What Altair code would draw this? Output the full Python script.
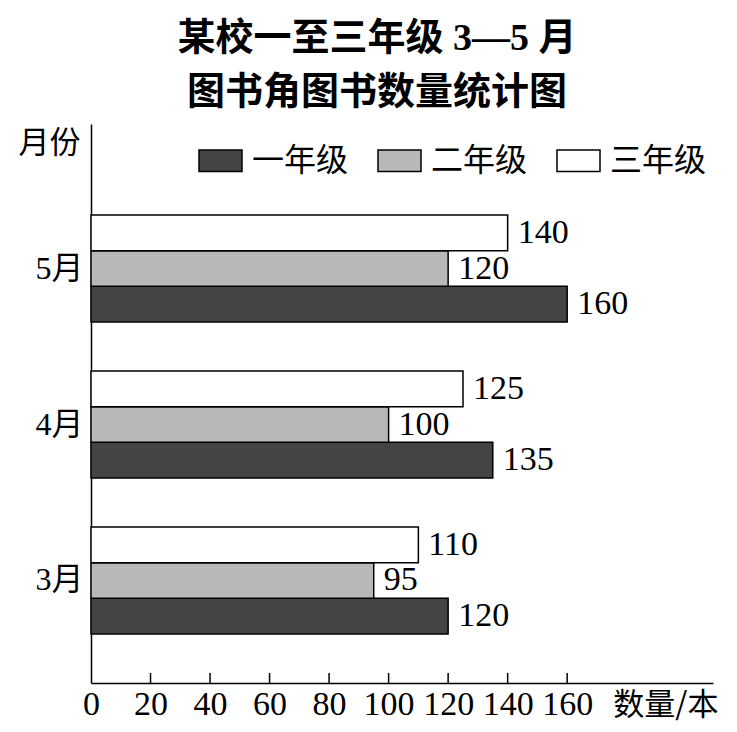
import pandas as pd
import altair as alt

# data
months = ["3月", "4月", "5月"]
grades = ["一年级", "二年级", "三年级"]
grade1 = [120, 135, 160]
grade2 = [95, 100, 120]
grade3 = [110, 125, 140]
x_ticks = [0, 20, 40, 60, 80, 100, 120, 140, 160]

rows = []
for i, m in enumerate(months):
    for g, vals in zip(grades, [grade1, grade2, grade3]):
        rows.append({"month": m, "grade": g, "count": vals[i]})
df = pd.DataFrame(rows)
ticks_df = pd.DataFrame({"v": x_ticks[1:]})

W, H = 622, 559
serif = "Liberation Serif"
cjk = "Noto Sans CJK SC"

x_scale = alt.Scale(domain=[0, 209], nice=False, zero=True)
y_scale = alt.Scale(domain=["5月", "4月", "3月"], paddingInner=0.314,
                    paddingOuter=0.449, align=0.65)

base = alt.Chart(df).encode(
    y=alt.Y("month:N", scale=y_scale, axis=alt.Axis(
        title="月份", titleAngle=0, titleX=-42, titleY=19,
        titleAlign="center", titleBaseline="middle",
        titleFont=cjk, titleFontSize=31, titleFontWeight="normal", titleColor="black",
        labelFont=f"{serif}, {cjk}", labelFontSize=32, labelColor="black",
        labelPadding=8, ticks=False, domainColor="black", domainWidth=1.5,
    )),
    yOffset=alt.YOffset("grade:N", scale=alt.Scale(
        domain=["三年级", "二年级", "一年级"], paddingInner=0, paddingOuter=0)),
)

bars = base.mark_bar(stroke="black", strokeWidth=1.5).encode(
    x=alt.X("count:Q", scale=x_scale, axis=alt.Axis(
        values=x_ticks, ticks=False, grid=False, labelOverlap=False, labelFlush=False,
        labelFont=serif, labelFontSize=34, labelColor="black", labelPadding=4,
        domainColor="black", domainWidth=1.5,
        title="数量/本", titleFont=cjk, titleFontSize=31, titleFontWeight="normal",
        titleColor="black", titleX=W + 5, titleY=22, titleAlign="right",
        titleBaseline="middle", titleAnchor="end",
    )),
    color=alt.Color("grade:N", scale=alt.Scale(
        domain=grades, range=["#444444", "#b8b8b8", "#ffffff"]),
        legend=alt.Legend(
            title=None, orient="none", legendX=107, legendY=14, direction="horizontal",
            symbolType="M-1,-0.5H1V0.5H-1Z", symbolSize=1849,
            symbolStrokeColor="black", symbolStrokeWidth=1.5, symbolOpacity=1,
            labelFont=cjk, labelFontSize=32, labelColor="black", labelOffset=9,
            columnPadding=26,
        )),
)

labels = base.mark_text(align="left", baseline="middle", dx=10,
                        font=serif, fontSize=34, color="black").encode(
    x=alt.X("count:Q", scale=x_scale),
    text="count:Q",
)

ticks = alt.Chart(ticks_df).mark_rule(color="black", strokeWidth=1.5).encode(
    x=alt.X("v:Q", scale=x_scale),
    y=alt.value(H),
    y2=alt.value(H - 10),
)

chart = alt.layer(bars, labels, ticks).properties(
    width=W, height=H,
    background="white",
    autosize=alt.AutoSizeParams(type="none"),
    padding={"left": 83, "top": 116, "right": 16, "bottom": 41},
    title=alt.TitleParams(
        text=["某校一至三年级 3—5 月", "图书角图书数量统计图"],
        font=f"{serif}, {cjk}", fontSize=38, fontWeight="bold", color="black",
        anchor="middle", frame="group", dx=-25, lineHeight=54, offset=12,
    ),
).configure_view(stroke=None)

chart.save("out.html", embed_options={"renderer": "svg", "actions": False})
